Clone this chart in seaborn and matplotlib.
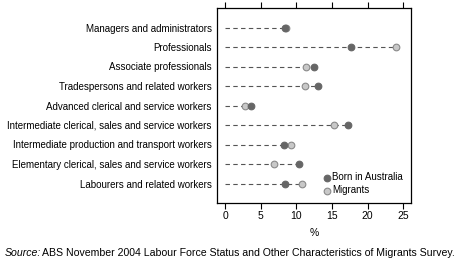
import matplotlib
matplotlib.use("Agg")
import matplotlib.pyplot as plt
import seaborn as sns
import pandas as pd
import numpy as np

categories = [
    "Managers and administrators",
    "Professionals",
    "Associate professionals",
    "Tradespersons and related workers",
    "Advanced clerical and service workers",
    "Intermediate clerical, sales and service workers",
    "Intermediate production and transport workers",
    "Elementary clerical, sales and service workers",
    "Labourers and related workers",
]
born_in_australia = [8.4, 17.7, 12.5, 13.0, 3.7, 17.3, 8.2, 10.4, 8.4]
migrants = [8.6, 24.0, 11.4, 11.2, 2.8, 15.3, 9.2, 6.8, 10.8]
x_ticks = [0, 5, 10, 15, 20, 25]

sns.set_theme(style="white")
plt.rcParams["font.family"] = ["Liberation Sans", "DejaVu Sans"]
plt.rcParams["text.color"] = "black"
plt.rcParams["xtick.color"] = "black"
plt.rcParams["ytick.color"] = "black"
plt.rcParams["axes.labelcolor"] = "black"

df = pd.DataFrame({
    "Occupation": categories * 2,
    "Percent": born_in_australia + migrants,
    "Group": ["Born in Australia"] * len(categories) + ["Migrants"] * len(categories),
})

fig = plt.figure(figsize=(4.67, 2.61), dpi=100)
ax = fig.add_axes([217.3 / 467, 1 - 203 / 261, (411 - 217.3) / 467, (203 - 8) / 261])

ypos = np.arange(len(categories))
maxvals = np.maximum(born_in_australia, migrants)
ax.hlines(ypos, 0, maxvals, colors="#555555", linestyles=(0, (4, 3)), linewidth=0.8, zorder=1)

sns.scatterplot(data=df[df.Group == "Migrants"], x="Percent", y="Occupation", ax=ax,
                color="#c8c8c8", edgecolor="#8a8a8a", linewidth=0.8, s=23, zorder=3,
                label="Migrants")
sns.scatterplot(data=df[df.Group == "Born in Australia"], x="Percent", y="Occupation", ax=ax,
                color="#666666", edgecolor="#666666", linewidth=0.8, s=23, zorder=4,
                label="Born in Australia")

ax.set_xlim(-1.1, 26.1)
ax.set_ylim(len(categories), -1)
ax.set_xticks(x_ticks)
ax.set_xticklabels([str(t) for t in x_ticks], fontsize=7.5)
ax.set_yticks(ypos)
ax.set_yticklabels(categories, fontsize=7)
ax.set_xlabel("%", fontsize=7.5, labelpad=5)
ax.set_ylabel("")
ax.tick_params(axis="y", length=0, pad=4)
ax.tick_params(axis="x", length=4, width=0.8, direction="out", top=True, bottom=True,
               labeltop=False, color="black", pad=2)
for sp in ax.spines.values():
    sp.set_visible(True)
    sp.set_color("black")
    sp.set_linewidth(0.9)

handles, labels = ax.get_legend_handles_labels()
order = [labels.index("Born in Australia"), labels.index("Migrants")]
ax.legend([handles[i] for i in order], [labels[i] for i in order],
          loc="lower right", bbox_to_anchor=(1.0, 0.0), frameon=False, fontsize=7,
          handletextpad=0.1, borderpad=0.3, labelspacing=0.3, markerscale=1.0,
          handlelength=1.0)

fig.text(5 / 467, 1 - 253 / 261, "Source:", fontsize=7.6, style="italic", va="center", ha="left")
fig.text(42 / 467, 1 - 253 / 261,
         "ABS November 2004 Labour Force Status and Other Characteristics of Migrants Survey.",
         fontsize=7.6, va="center", ha="left")

fig.savefig("out.png", dpi=100)
